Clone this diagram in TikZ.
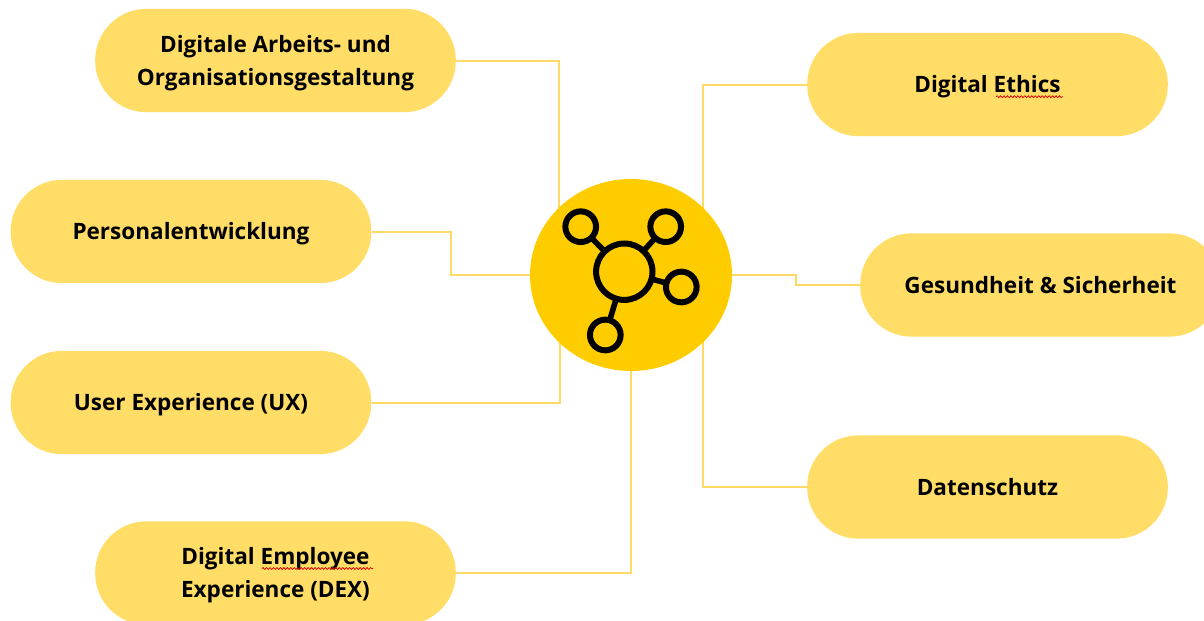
\documentclass[tikz,border=0pt]{standalone}
\usepackage{fontspec}
\setmainfont{Open Sans}
\usetikzlibrary{shapes.geometric,decorations.pathmorphing,backgrounds}
\definecolor{pill}{HTML}{FFDD66}
\definecolor{hubfill}{HTML}{FFCC00}
\definecolor{linkc}{HTML}{FFD966}
\newcommand{\tl}[1]{\rule[-6.2pt]{0pt}{24.7pt}#1}
\tikzset{
  x=0.75pt,y=-0.75pt,
  pillbox/.style={draw=none,fill=pill,rectangle,rounded corners=38.5pt,minimum width=270.5pt,minimum height=77.5pt,inner sep=0pt,align=center,
    font=\fontsize{16.9pt}{24.7pt}\selectfont\bfseries,text=black},
  link/.style={draw=linkc,line width=1.5pt},
  ring/.style={circle,draw=black,line width=4.5pt,fill=none,inner sep=0pt,outer sep=0pt,minimum size=#1},
  spoke/.style={draw=black,line width=4.2pt},
  squiggle/.style={draw=red!85!black,line width=0.55pt,decorate,decoration={snake,amplitude=0.7pt,segment length=2.6pt}},
}
\begin{document}
\begin{tikzpicture}
\useasboundingbox (0,0) rectangle (1204,621);
\clip (0,0) rectangle (1204,621);
\node[pillbox] (A) at (275.5,60.5) {\tl{Digitale Arbeits- und}\\\tl{Organisationsgestaltung}};
\node[pillbox] (B) at (191,231.5) {\tl{Personalentwicklung}};
\node[pillbox] (C) at (191,402.5) {\tl{User Experience (UX)}};
\node[pillbox] (D) at (275.5,573) {\tl{Digital Employee}\\\tl{Experience (DEX)}};
\node[pillbox] (E) at (987.5,84.5) {\tl{Digital Ethics}};
\node[pillbox] (F) at (1040.5,285) {\tl{Gesundheit \& Sicherheit}};
\node[pillbox] (G) at (987.5,487) {\tl{Datenschutz}};
\node[ellipse,fill=hubfill,draw=none,minimum width=151.5pt,minimum height=144pt,inner sep=0pt] (H) at (631,275) {};
\coordinate (hA) at (559,275);
\coordinate (hB) at (451,253.5);
\coordinate (hC) at (560,275);
\coordinate (hE) at (703,275);
\coordinate (hF) at (796,280);
\begin{pgfonlayer}{background}
\draw[link] (A.east) -| (hA);
\draw[link] (B.east) -| (hB) |- (H.west);
\draw[link] (C.east) -| (hC);
\draw[link] (D.east) -| (H.south);
\draw[link] (E.west) -| (hE);
\draw[link] (F.west) -| (hF) |- (H.east);
\draw[link] (G.west) -| (hE);
\end{pgfonlayer}
\node[ring=42.3pt] (c0) at (624.3,271.7) {};
\node[ring=23pt] (c1) at (580.7,226.7) {};
\node[ring=23pt] (c2) at (665.7,226.7) {};
\node[ring=23pt] (c3) at (681.3,287) {};
\node[ring=23pt] (c4) at (605.3,335) {};
\draw[spoke] (c0) -- (c1);
\draw[spoke] (c0) -- (c2);
\draw[spoke] (c0) -- (c3);
\draw[spoke] (c0) -- (c4);
\coordinate (s1) at (996,96.7);
\coordinate (s2) at (1063,96.7);
\coordinate (s3) at (262,568.5);
\coordinate (s4) at (373,568.5);
\draw[squiggle] (s1) -- (s2);
\draw[squiggle] (s3) -- (s4);
\end{tikzpicture}
\end{document}
